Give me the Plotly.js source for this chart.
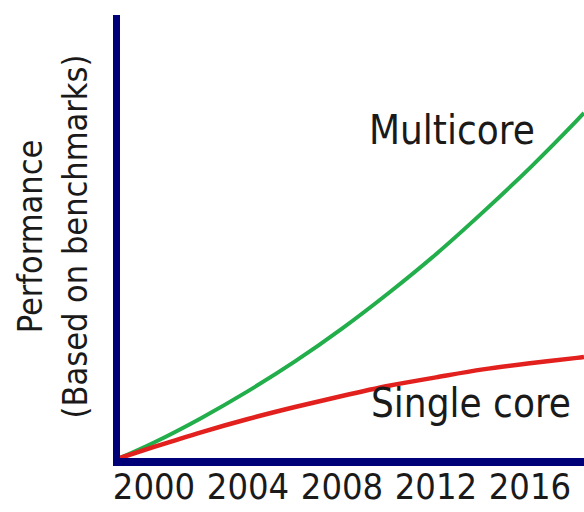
<!DOCTYPE html>
<html>
<head>
<meta charset="utf-8">
<script src="https://cdn.plot.ly/plotly-3.0.1.min.js"></script>
<style>
  html, body { margin: 0; padding: 0; background: #ffffff; }
  #chart { width: 584px; height: 512px; }
</style>
</head>
<body>
<div id="chart"></div>
<script>
// Years sampled along the curves (x axis)
const years = [1998.55, 2000, 2002, 2004, 2006, 2008, 2010, 2012, 2014, 2016, 2018, 2018.3];
// Relative performance (arbitrary units)
const multicore = [0, 3.5, 9.0, 15.1, 21.8, 29.2, 37.3, 46.0, 55.5, 65.5, 76.2, 77.9];
const singleCore = [0, 2.5, 5.8, 8.8, 11.5, 14.0, 16.3, 18.2, 20.0, 21.4, 22.6, 22.8];
// Tick labels
const tickYears = [2000, 2004, 2008, 2012, 2016];
const tickText = ["2000", "2004", "2008", "2012", "2016"];
// Series labels
const seriesNames = ["Multicore", "Single core"];
const labelPos = { multicore: [2012.7, 74.0], single: [2013.5, 12.5] };

const FONT = '"DejaVu Sans Condensed", "DejaVu Sans", sans-serif';
const NAVY = '#000078';

const traces = [
  {
    x: years, y: multicore, name: seriesNames[0], type: 'scatter', mode: 'lines',
    line: { color: '#22ae4a', width: 4, shape: 'spline', smoothing: 1 },
    hoverinfo: 'skip'
  },
  {
    x: years, y: singleCore, name: seriesNames[1], type: 'scatter', mode: 'lines',
    line: { color: '#e2201e', width: 4.5, shape: 'spline', smoothing: 1 },
    hoverinfo: 'skip'
  }
];

const layout = {
  width: 584, height: 512,
  margin: { l: 120, r: 0, t: 15, b: 54, pad: 0 },
  paper_bgcolor: '#ffffff', plot_bgcolor: '#ffffff',
  showlegend: false,
  font: { family: FONT, color: '#1a1a1a' },
  xaxis: {
    range: [1998.553, 2018.3],
    showgrid: false, zeroline: false,
    showline: true, linecolor: NAVY, linewidth: 8,
    ticks: '', tickmode: 'array', tickvals: tickYears, ticktext: tickText,
    tickfont: { family: FONT, size: 36, color: '#1a1a1a' },
    ticklabelstandoff: -10,
    fixedrange: true
  },
  yaxis: {
    range: [0, 100],
    showgrid: false, zeroline: false,
    showline: true, linecolor: NAVY, linewidth: 7,
    ticks: '', showticklabels: false,
    title: {
      text: 'Performance<br>(Based on benchmarks)',
      font: { family: FONT, size: 34, color: '#1a1a1a' },
      standoff: 18
    },
    fixedrange: true
  },
  annotations: [
    {
      x: labelPos.multicore[0], y: labelPos.multicore[1], xref: 'x', yref: 'y',
      text: seriesNames[0], showarrow: false,
      xanchor: 'center', yanchor: 'middle',
      font: { family: FONT, size: 40, color: '#1a1a1a' }
    },
    {
      x: labelPos.single[0], y: labelPos.single[1], xref: 'x', yref: 'y',
      text: seriesNames[1], showarrow: false,
      xanchor: 'center', yanchor: 'middle',
      font: { family: FONT, size: 40, color: '#1a1a1a' }
    }
  ]
};

Plotly.newPlot('chart', traces, layout, { staticPlot: true, displayModeBar: false });
</script>
</body>
</html>
